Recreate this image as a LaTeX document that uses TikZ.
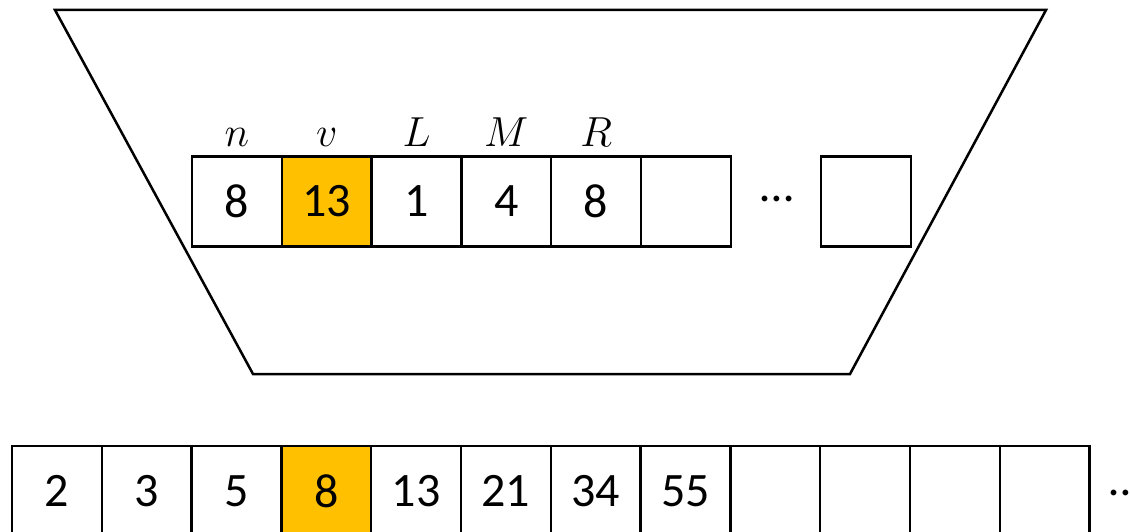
\RequirePackage{fix-cm}
\documentclass[tikz,border=0pt]{standalone}
\usepackage{fontspec}
\setmainfont{Carlito}
\begin{document}
\begin{tikzpicture}[x=1pt,y=-1pt,
  cell/.style={draw=black,line width=2.5pt,minimum width=89.8pt,minimum height=89.8pt,
    inner sep=0pt,outer sep=0pt,font=\fontsize{48}{48}\selectfont,anchor=north west},
  hot/.style={fill=hotfill},
  tag/.style={anchor=base,inner sep=0pt,font=\fontsize{42}{42}\selectfont},
  dots/.style={inner sep=0pt,font=\fontsize{48}{48}\selectfont}]
\definecolor{hotfill}{HTML}{FFC000}
\useasboundingbox (0,0) rectangle (1130,532);
% outer trapezoid
\draw[line width=2.5pt,line join=miter] (55,10) -- (1046,10) -- (850,374) -- (253,374) -- cycle;
% register cells inside the trapezoid
\node[cell] (t1) at (192,156.5) {8};
\node[cell,hot] (t2) at (t1.north east) {13};
\node[cell] (t3) at (t2.north east) {1};
\node[cell] (t4) at (t3.north east) {4};
\node[cell] (t5) at (t4.north east) {8};
\node[cell] (t6) at (t5.north east) {};
\node[cell] (tl) at (821,156.5) {};
\node[dots] (tdots) at (777,199) {…};
% register names
\node[tag] (ln) at ([yshift=9.5pt]t1.north) {$n$};
\node[tag] (lv) at ([yshift=9.5pt]t2.north) {$v$};
\node[tag] (lL) at ([yshift=9.5pt]t3.north) {$L$};
\node[tag] (lM) at ([yshift=9.5pt]t4.north) {$M$};
\node[tag] (lR) at ([yshift=9.5pt]t5.north) {$R$};
% memory row
\node[cell] (b1) at (12,446) {2};
\node[cell] (b2) at (b1.north east) {3};
\node[cell] (b3) at (b2.north east) {5};
\node[cell,hot] (b4) at (b3.north east) {8};
\node[cell] (b5) at (b4.north east) {13};
\node[cell] (b6) at (b5.north east) {21};
\node[cell] (b7) at (b6.north east) {34};
\node[cell] (b8) at (b7.north east) {55};
\node[cell] (b9) at (b8.north east) {};
\node[cell] (b10) at (b9.north east) {};
\node[cell] (b11) at (b10.north east) {};
\node[cell] (b12) at (b11.north east) {};
\node[dots,anchor=west] (bdots) at (1109,493) {…};
\end{tikzpicture}
\end{document}
